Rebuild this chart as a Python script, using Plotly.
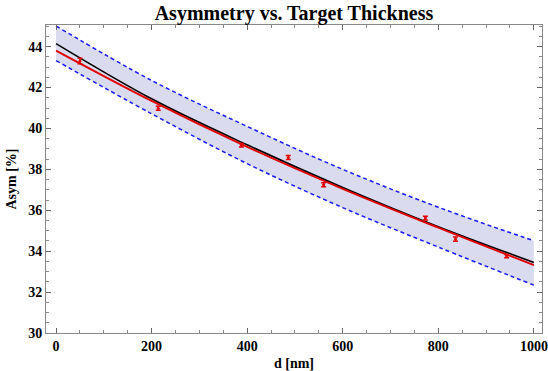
import plotly.graph_objects as go

# Measured data
d_nm = [50, 214, 388, 486, 560, 773, 836, 943]
asym = [43.30, 40.99, 39.18, 38.58, 37.25, 35.62, 34.59, 33.76]
asym_err = [0.13, 0.10, 0.08, 0.10, 0.10, 0.09, 0.10, 0.08]

# Curves read at sample thicknesses
curve_x = [0, 200, 400, 600, 800, 1000]
black_fit = [44.15, 41.45, 39.20, 37.12, 35.20, 33.45]
red_fit = [43.81, 41.35, 39.10, 37.05, 35.15, 33.32]
band_upper = [45.01, 42.35, 40.10, 38.00, 36.15, 34.51]
band_lower = [43.32, 40.72, 38.28, 36.13, 34.20, 32.34]

x_ticks = [0, 200, 400, 600, 800, 1000]
y_ticks = [30, 32, 34, 36, 38, 40, 42, 44]

FONT = "Liberation Serif"

fig = go.Figure()
fig.add_trace(go.Scatter(x=curve_x, y=band_upper, mode="lines",
                         line=dict(color="#1a1aff", width=1.5, dash="4px,3px", shape="spline"),
                         showlegend=False, hoverinfo="skip"))
fig.add_trace(go.Scatter(x=curve_x, y=band_lower, mode="lines",
                         line=dict(color="#1a1aff", width=1.5, dash="4px,3px", shape="spline"),
                         fill="tonexty", fillcolor="rgba(190,190,225,0.55)",
                         showlegend=False, hoverinfo="skip"))
fig.add_trace(go.Scatter(x=curve_x, y=black_fit, mode="lines",
                         line=dict(color="black", width=1.6, shape="spline"),
                         showlegend=False))
fig.add_trace(go.Scatter(x=curve_x, y=red_fit, mode="lines",
                         line=dict(color="#e00000", width=2, shape="spline"),
                         showlegend=False))
fig.add_trace(go.Scatter(x=d_nm, y=asym, mode="markers",
                         marker=dict(color="#e00000", size=3),
                         error_y=dict(type="data", array=asym_err, color="#e00000",
                                      thickness=1.5, width=2.5),
                         showlegend=False))

axis_common = dict(
    showgrid=False, zeroline=False, showline=True, linecolor="#888888", linewidth=1,
    mirror="ticks", ticks="inside", ticklen=5, tickcolor="#666666", tickwidth=1,
    automargin=False,
    tickfont=dict(family=FONT, size=14, color="black", weight="bold"),
)

fig.update_layout(
    width=548, height=371,
    margin=dict(l=46, r=6, t=25, b=38, autoexpand=False),
    paper_bgcolor="white", plot_bgcolor="white",
    title=dict(text="<b>Asymmetry vs. Target Thickness</b>", x=0.5364, xanchor="center",
               y=0.965, yanchor="middle",
               font=dict(family=FONT, size=20, color="black")),
    xaxis=dict(range=[-21, 1017], tickvals=x_ticks, ticktext=[str(v) for v in x_ticks],
               minor=dict(dtick=50, ticks="inside", ticklen=3, tickcolor="#888888"),
               title=dict(text="<b>d [nm]</b>", font=dict(family=FONT, size=14, color="black"),
                          standoff=6),
               **axis_common),
    yaxis=dict(range=[30, 45.06], tickvals=y_ticks, ticktext=[str(v) for v in y_ticks],
               minor=dict(dtick=0.5, tick0=30, ticks="inside", ticklen=3, tickcolor="#888888"),
               title=dict(text="<b>Asym [%]</b>", font=dict(family=FONT, size=14, color="black"),
                          standoff=8),
               **axis_common),
)

fig.write_html("out.html", config={"displayModeBar": False},
               post_script="document.body.style.margin='0px';")
